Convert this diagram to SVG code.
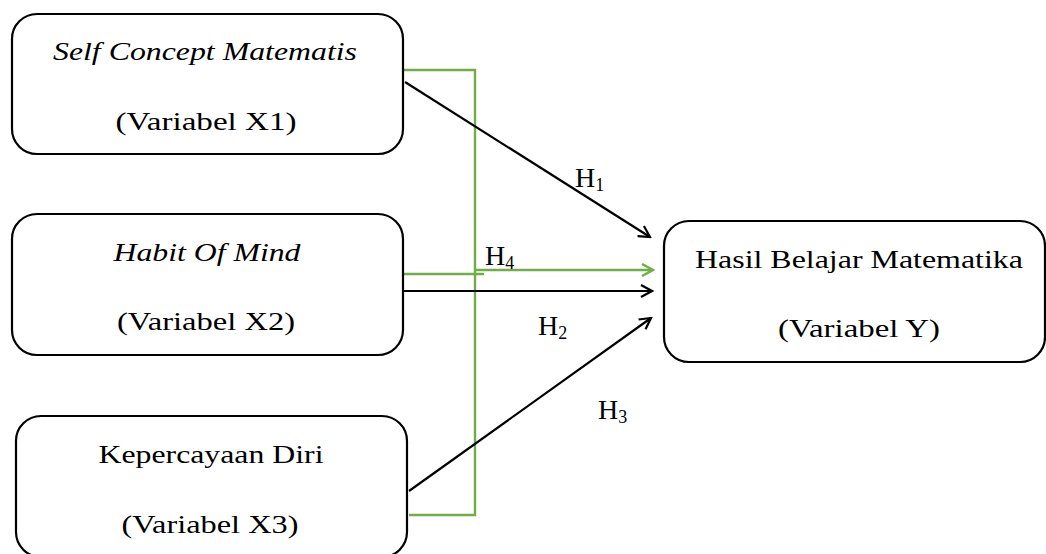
<svg xmlns="http://www.w3.org/2000/svg" width="1046" height="554" viewBox="0 0 1046 554">
<style>
.box{fill:#fff;stroke:#000;stroke-width:2.2}
.t{font-family:"Liberation Serif","Times New Roman",serif;font-size:26px;fill:#000;text-anchor:middle}
.i{font-style:italic}
.h{font-family:"Liberation Serif","Times New Roman",serif;font-size:28px;fill:#000}
.blk{stroke:#000;stroke-width:2.2;fill:none}
.grn{stroke:#70AD47;stroke-width:2.4;fill:none}
</style>
<defs>
<marker id="ab" viewBox="0 0 14 14" refX="12" refY="7" markerWidth="14" markerHeight="14" markerUnits="userSpaceOnUse" orient="auto">
<path d="M1,1 L12,7 L1,13" fill="none" stroke="#000" stroke-width="2.2"/>
</marker>
<marker id="ag" viewBox="0 0 14 14" refX="12" refY="7" markerWidth="14" markerHeight="14" markerUnits="userSpaceOnUse" orient="auto">
<path d="M1,1 L12,7 L1,13" fill="none" stroke="#70AD47" stroke-width="2.4"/>
</marker>
</defs>
<g id="connectors">
<polyline class="grn" points="403,70 475,70 475,515 409,515"/>
<line class="grn" x1="403" y1="274" x2="484" y2="274"/>
<line class="grn" x1="476" y1="270" x2="653" y2="270" marker-end="url(#ag)"/>
<line class="blk" x1="405" y1="82" x2="650" y2="237" marker-end="url(#ab)"/>
<line class="blk" x1="403" y1="291" x2="652" y2="291" marker-end="url(#ab)"/>
<line class="blk" x1="409" y1="491" x2="651" y2="318" marker-end="url(#ab)"/>
<text class="h" x="575" y="187">H<tspan font-size="18" dy="4">1</tspan></text>
<text class="h" x="485" y="265">H<tspan font-size="18" dy="4">4</tspan></text>
<text class="h" x="538" y="335">H<tspan font-size="18" dy="4">2</tspan></text>
<text class="h" x="598" y="419">H<tspan font-size="18" dy="4">3</tspan></text>
</g>
<g id="x1">
<rect class="box" x="12" y="14" width="391" height="140" rx="25"/>
<text class="t i" x="205" y="60" textLength="304" lengthAdjust="spacingAndGlyphs">Self Concept Matematis</text>
<text class="t" x="206" y="130" textLength="181" lengthAdjust="spacingAndGlyphs">(Variabel X1)</text>
</g>
<g id="x2">
<rect class="box" x="12" y="214" width="391" height="141" rx="25"/>
<text class="t i" x="207" y="261" textLength="187" lengthAdjust="spacingAndGlyphs">Habit Of Mind</text>
<text class="t" x="206" y="330" textLength="178" lengthAdjust="spacingAndGlyphs">(Variabel X2)</text>
</g>
<g id="x3">
<rect class="box" x="16" y="416" width="391" height="141" rx="25"/>
<text class="t" x="211" y="463" textLength="225" lengthAdjust="spacingAndGlyphs">Kepercayaan Diri</text>
<text class="t" x="210" y="533" textLength="177" lengthAdjust="spacingAndGlyphs">(Variabel X3)</text>
</g>
<g id="y">
<rect class="box" x="664" y="221" width="381" height="141" rx="25"/>
<text class="t" x="859" y="268" textLength="328" lengthAdjust="spacingAndGlyphs">Hasil Belajar Matematika</text>
<text class="t" x="859" y="337" textLength="162" lengthAdjust="spacingAndGlyphs">(Variabel Y)</text>
</g>
</svg>
